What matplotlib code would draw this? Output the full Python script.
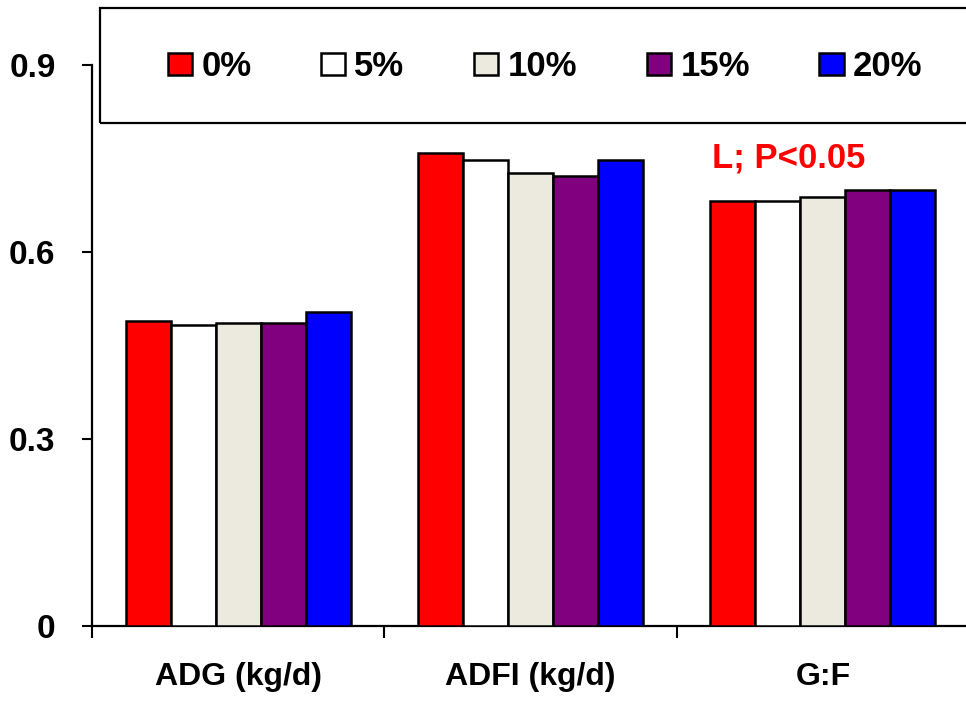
import numpy as np
import matplotlib
matplotlib.use('Agg')
import matplotlib.pyplot as plt
from matplotlib.patches import Rectangle

plt.rcParams['font.family'] = ['Liberation Sans', 'DejaVu Sans']
plt.rcParams['font.weight'] = 'bold'

# performance traits and inclusion levels
traits = ['ADG (kg/d)', 'ADFI (kg/d)', 'G:F']
levels = ['0%', '5%', '10%', '15%', '20%']
colors = ['#ff0000', '#ffffff', '#eceadf', '#800080', '#0000ff']

# one list per inclusion level: ADG, ADFI, G:F
lvl_0 = [0.490, 0.758, 0.682]
lvl_5 = [0.483, 0.748, 0.682]
lvl_10 = [0.486, 0.726, 0.689]
lvl_15 = [0.486, 0.722, 0.700]
lvl_20 = [0.504, 0.748, 0.700]
values = [lvl_0, lvl_5, lvl_10, lvl_15, lvl_20]

sig_note = 'L; P<0.05'

fig = plt.figure(figsize=(9.66, 7.01), dpi=100)
ax = fig.add_axes([0.0952, 0.107, 0.908, 0.8003])

x = np.arange(len(traits))
width = 0.154
bars = []
for i, (lvl, vals, c) in enumerate(zip(levels, values, colors)):
    b = ax.bar(x + (i - 2) * width, vals, width, color=c, edgecolor='black',
               linewidth=1.8, label=lvl, zorder=3)
    bars.append(b)

ax.set_xlim(-0.5, 2.5)
ax.set_ylim(0, 0.9)
ax.set_yticks([0, 0.3, 0.6, 0.9])
ax.set_yticklabels(['0', '0.3', '0.6', '0.9'])

# category boundaries as ticks, names centred under each group
ax.set_xticks([-0.5, 0.5, 1.5, 2.5])
ax.set_xticklabels([])
ax.set_xticks(x, minor=True)
ax.set_xticklabels(traits, minor=True)
ax.tick_params(axis='x', which='major', direction='out', length=8.6, width=1.5)
ax.tick_params(axis='x', which='minor', length=0, pad=26, labelsize=23)
ax.tick_params(axis='y', direction='out', length=7.2, width=1.5, pad=19, labelsize=24)

for side in ('top', 'right'):
    ax.spines[side].set_visible(False)
for side in ('left', 'bottom'):
    ax.spines[side].set_linewidth(1.6)

ax.text(1.621, 0.735, sig_note, color='#ff0000', fontsize=25,
        fontweight='bold', ha='left', va='baseline')

# legend box running off the right edge
fig.patches.append(Rectangle((100 / 966, 1 - 123 / 701), 0.95, 115 / 701,
                             transform=fig.transFigure, fill=False,
                             edgecolor='black', linewidth=1.6))
ax.legend(handles=bars, labels=levels, ncol=5, loc='center',
          bbox_to_anchor=(545 / 966, 1 - 67 / 701),
          bbox_transform=fig.transFigure, frameon=False, fontsize=25,
          handlelength=0.7, handleheight=0.6, handletextpad=0.27,
          columnspacing=2.0)

fig.savefig('out.png', dpi=100)
